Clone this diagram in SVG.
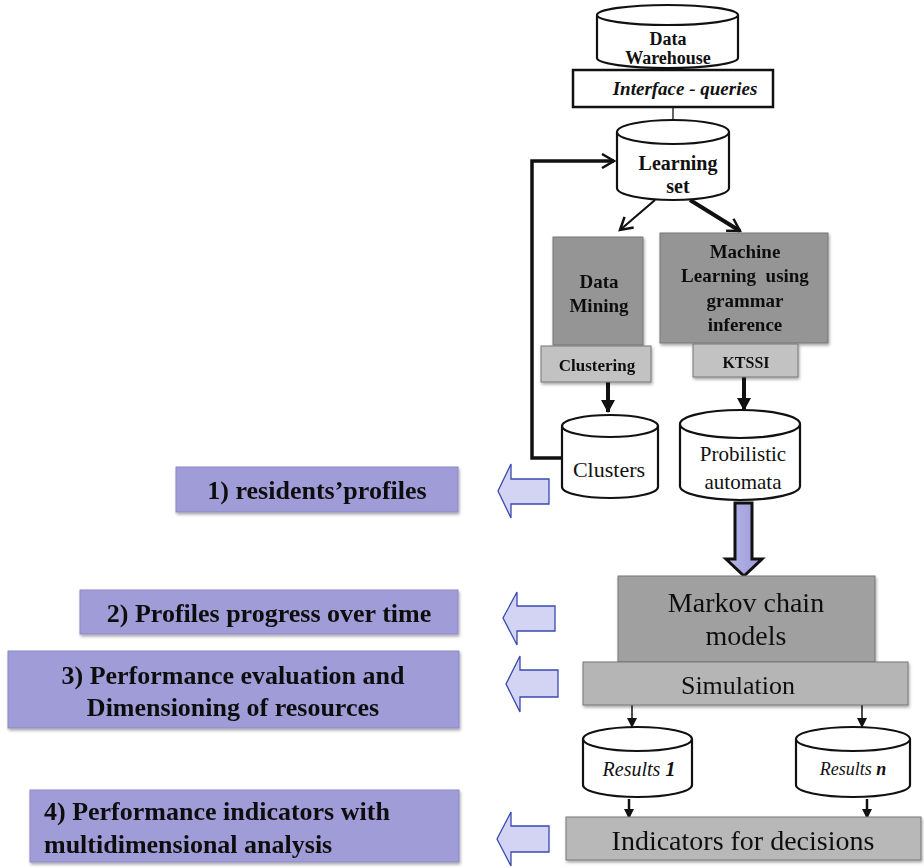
<svg xmlns="http://www.w3.org/2000/svg" width="924" height="868" viewBox="0 0 924 868">
<defs>
<style>
text{fill:#111}
.b{font-weight:bold}
.cyl{fill:#fff;stroke:#111;stroke-width:2.2}
.gray{stroke:#777;stroke-width:1}
.pur{fill:#a09cd8;stroke:#8d89c6;stroke-width:1}
.la{fill:#d3d3f3;stroke:#3a4ab0;stroke-width:1.3}
.ln{stroke:#111;fill:none}
</style>
<filter id="sh" x="-5%" y="-5%" width="112%" height="125%">
<feDropShadow dx="1" dy="2" stdDeviation="1.5" flood-color="#000" flood-opacity="0.35"/>
</filter>
<linearGradient id="bg" x1="0" y1="0" x2="1" y2="0">
<stop offset="0" stop-color="#b8b8e8"/><stop offset="1" stop-color="#9c98d8"/>
</linearGradient>
<marker id="ah" markerWidth="10" markerHeight="10" refX="9" refY="5" orient="auto" markerUnits="userSpaceOnUse">
<path d="M0,0 L10,5 L0,10 Z" fill="#111"/>
</marker>
<marker id="ahb" markerWidth="14" markerHeight="14" refX="12" refY="7" orient="auto" markerUnits="userSpaceOnUse">
<path d="M0,0 L13,7 L0,14 Z" fill="#111"/>
</marker>
<marker id="ao" markerWidth="16" markerHeight="16" refX="13" refY="8" orient="auto" markerUnits="userSpaceOnUse">
<path d="M1,1 L13,8 L1,15" fill="none" stroke="#111" stroke-width="2.5"/>
</marker>
</defs>

<g id="connectors">
<line class="ln" x1="673" y1="107" x2="673" y2="141" stroke-width="1.3" marker-end="url(#ah)"/>
<polyline class="ln" points="562,458 532,458 532,161 614,161" stroke-width="3.5" marker-end="url(#ao)"/>
<line class="ln" x1="655" y1="200" x2="620" y2="230" stroke-width="2.2" marker-end="url(#ao)"/>
<line class="ln" x1="690" y1="200" x2="740" y2="231" stroke-width="4" marker-end="url(#ao)"/>
<line class="ln" x1="608" y1="382" x2="608" y2="412" stroke-width="4" marker-end="url(#ahb)"/>
<line class="ln" x1="744" y1="377" x2="744" y2="410" stroke-width="4" marker-end="url(#ahb)"/>
<path d="M735,503 H752 V559 H762 L744,576 L726,559 H735 Z" fill="url(#bg)" stroke="#111" stroke-width="3"/>
<line class="ln" x1="632" y1="705" x2="632" y2="727" stroke-width="1.5" marker-end="url(#ah)"/>
<line class="ln" x1="862" y1="705" x2="862" y2="727" stroke-width="1.5" marker-end="url(#ah)"/>
<line class="ln" x1="629" y1="799" x2="629" y2="818" stroke-width="2.5" marker-end="url(#ah)"/>
<line class="ln" x1="867" y1="799" x2="867" y2="818" stroke-width="2.5" marker-end="url(#ah)"/>
<path class="la" d="M549,479 V504 H511 V518 L498,491 L511,464 V479 Z"/>
<path class="la" d="M555,606 V631 H517 V645 L503,618 L517,592 V606 Z"/>
<path class="la" d="M558,670 V697 H520 V712 L506,684 L520,656 V670 Z"/>
<path class="la" d="M549,826 V852 H511 V866 L497,839 L511,812 V826 Z"/>
</g>

<g font-family="'Liberation Serif', 'Times New Roman', 'DejaVu Serif', serif" text-anchor="middle">
<g id="data-warehouse">
<path class="cyl" d="M597,15 V58 A70.5,10 0 0 0 738,58 V15"/>
<ellipse class="cyl" cx="667.5" cy="15" rx="70.5" ry="10"/>
<text class="b" x="668" y="45" font-size="18">Data</text>
<text class="b" x="668" y="64" font-size="18">Warehouse</text>
</g>

<g id="interface">
<rect x="573" y="70" width="200" height="37" fill="#fff" stroke="#111" stroke-width="2.5"/>
<text class="b" x="685" y="95" font-size="19" font-style="italic">Interface - queries</text>
</g>

<g id="learning-set">
<path class="cyl" d="M617,132 V188 A56,12 0 0 0 729,188 V132"/>
<ellipse class="cyl" cx="673" cy="132" rx="56" ry="12"/>
<text class="b" x="678" y="170" font-size="20">Learning</text>
<text class="b" x="678" y="193" font-size="20">set</text>
</g>

<g id="data-mining" filter="url(#sh)">
<rect class="gray" x="553" y="237" width="90" height="108" fill="#959595"/>
<text class="b" x="599" y="288" font-size="19">Data</text>
<text class="b" x="599" y="312" font-size="19">Mining</text>
</g>

<g id="clustering" filter="url(#sh)">
<rect class="gray" x="541" y="346" width="110" height="36" fill="#c2c2c2"/>
<text class="b" x="597" y="371" font-size="17">Clustering</text>
</g>

<g id="machine-learning" filter="url(#sh)">
<rect class="gray" x="660" y="233" width="168" height="110" fill="#959595"/>
<text class="b" x="745" y="258" font-size="19">Machine</text>
<text class="b" x="745" y="282" font-size="19" xml:space="preserve">Learning  using</text>
<text class="b" x="745" y="307" font-size="19">grammar</text>
<text class="b" x="745" y="331" font-size="19">inference</text>
</g>

<g id="ktssi" filter="url(#sh)">
<rect class="gray" x="693" y="344" width="105" height="33" fill="#c2c2c2"/>
<text class="b" x="746" y="368" font-size="16">KTSSI</text>
</g>

<g id="clusters">
<path class="cyl" d="M562,426 V487 A48,11 0 0 0 658,487 V426"/>
<ellipse class="cyl" cx="610" cy="426" rx="48" ry="11"/>
<text x="609" y="477" font-size="22">Clusters</text>
</g>

<g id="probabilistic-automata">
<path class="cyl" d="M680,424 V486 A60,14 0 0 0 800,486 V424"/>
<ellipse class="cyl" cx="740" cy="424" rx="60" ry="14"/>
<text x="743" y="461" font-size="21">Probilistic</text>
<text x="743" y="489" font-size="21">automata</text>
</g>

<g id="markov" filter="url(#sh)">
<rect class="gray" x="618" y="576" width="257" height="86" fill="#a0a0a0"/>
<text x="746" y="612" font-size="28">Markov chain</text>
<text x="746" y="645" font-size="28">models</text>
</g>

<g id="simulation" filter="url(#sh)">
<rect class="gray" x="583" y="662" width="325" height="43" fill="#b5b5b5"/>
<text x="738" y="694" font-size="26">Simulation</text>
</g>

<g id="results-1">
<path class="cyl" d="M583,739 V785 A54.5,12 0 0 0 692,785 V739"/>
<ellipse class="cyl" cx="637.5" cy="739" rx="54.5" ry="12"/>
<text x="639" y="776" font-size="20" font-style="italic">Results <tspan font-weight="bold">1</tspan></text>
</g>

<g id="results-n">
<path class="cyl" d="M796,739 V785 A57,12 0 0 0 910,785 V739"/>
<ellipse class="cyl" cx="853" cy="739" rx="57" ry="12"/>
<text x="853" y="775" font-size="18" font-style="italic">Results <tspan font-weight="bold">n</tspan></text>
</g>

<g id="indicators" filter="url(#sh)">
<rect class="gray" x="566" y="817" width="355" height="43" fill="#b8b8b8"/>
<text x="743" y="850" font-size="28">Indicators for decisions</text>
</g>

<g id="out-1" filter="url(#sh)">
<rect class="pur" x="176" y="467" width="282" height="45"/>
<text class="b" x="317" y="499" font-size="26">1) residents’profiles</text>
</g>

<g id="out-2" filter="url(#sh)">
<rect class="pur" x="80" y="590" width="378" height="44"/>
<text class="b" x="269" y="622" font-size="26">2) Profiles progress over time</text>
</g>

<g id="out-3" filter="url(#sh)">
<rect class="pur" x="8" y="651" width="451" height="77"/>
<text class="b" x="233" y="684" font-size="26">3) Performance evaluation and</text>
<text class="b" x="233" y="716" font-size="26">Dimensioning of resources</text>
</g>

<g id="out-4" filter="url(#sh)">
<rect class="pur" x="30" y="790" width="429" height="72"/>
<text class="b" x="44" y="820" font-size="26" text-anchor="start">4) Performance indicators with</text>
<text class="b" x="44" y="853" font-size="26" text-anchor="start">multidimensional analysis</text>
</g>
</g>
</svg>
